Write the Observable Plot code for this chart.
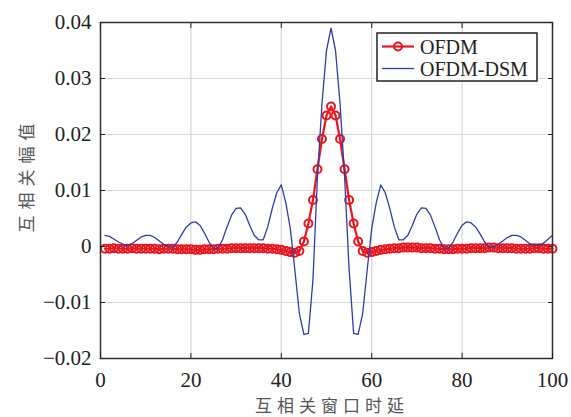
<!DOCTYPE html>
<html><head><meta charset="utf-8">
<script src="https://cdn.jsdelivr.net/npm/d3@7"></script>
<script src="https://cdn.jsdelivr.net/npm/@observablehq/plot@0.6"></script>
<style>body{margin:0;background:#fff} svg{display:block}</style>
</head><body><div id="chart"></div>
<script>
// Series values, lag index 1..100
const ofdm = [
 -0.0004,-0.0004,-0.0003,-0.0004,-0.0004,-0.0004,-0.0003,-0.0004,-0.0004,-0.0004,
 -0.0004,-0.0004,-0.0005,-0.0004,-0.0004,-0.0004,-0.0005,-0.0005,-0.0005,-0.0005,
 -0.0006,-0.0006,-0.0005,-0.0005,-0.0005,-0.0004,-0.0004,-0.0004,-0.0003,-0.0003,
 -0.0003,-0.0003,-0.0003,-0.0003,-0.0003,-0.0003,-0.0004,-0.0004,-0.0005,-0.0006,
 -0.0008,-0.0010,-0.0011,-0.0008,0.0009,0.0041,0.0083,0.0138,0.0192,0.0234,
 0.0250,0.0234,0.0192,0.0138,0.0083,0.0041,0.0009,-0.0008,-0.0011,-0.0010,
 -0.0008,-0.0006,-0.0005,-0.0004,-0.0003,-0.0003,-0.0002,-0.0002,-0.0002,-0.0002,
 -0.0003,-0.0003,-0.0003,-0.0004,-0.0004,-0.0005,-0.0005,-0.0005,-0.0004,-0.0004,
 -0.0004,-0.0003,-0.0003,-0.0003,-0.0003,-0.0002,-0.0002,-0.0003,-0.0003,-0.0003,
 -0.0003,-0.0004,-0.0004,-0.0004,-0.0004,-0.0003,-0.0003,-0.0004,-0.0004,-0.0004
];
const ofdmDsm = [
 0.0020,0.0018,0.0013,0.0008,0.0004,0.0002,0.0005,0.0011,0.0017,0.0020,
 0.0020,0.0016,0.0010,0.0004,0.0000,-0.0001,0.0008,0.0022,0.0035,0.0042,
 0.0044,0.0038,0.0024,0.0008,-0.0003,-0.0003,0.0012,0.0035,0.0056,0.0068,
 0.0069,0.0058,0.0038,0.0020,0.0012,0.0012,0.0035,0.0068,0.0096,0.0110,
 0.0078,0.0032,-0.0042,-0.0120,-0.0157,-0.0155,-0.0060,0.0125,0.0255,0.0350,
 0.0390,0.0350,0.0255,0.0125,-0.0040,-0.0155,-0.0157,-0.0120,-0.0042,0.0032,
 0.0078,0.0110,0.0096,0.0068,0.0035,0.0012,0.0012,0.0020,0.0038,0.0058,
 0.0069,0.0068,0.0056,0.0035,0.0012,-0.0003,-0.0003,0.0008,0.0024,0.0038,
 0.0044,0.0042,0.0035,0.0022,0.0008,-0.0001,0.0000,0.0004,0.0010,0.0016,
 0.0020,0.0020,0.0017,0.0011,0.0005,0.0002,0.0002,0.0006,0.0013,0.0020
];
const seriesNames = ["OFDM", "OFDM-DSM"];
const xTicks = [0, 20, 40, 60, 80, 100];
const yTicks = [-0.02, -0.01, 0, 0.01, 0.02, 0.03, 0.04];
const yTickLabels = ["\u22120.02", "\u22120.01", "0", "0.01", "0.02", "0.03", "0.04"];
const xLabel = "互相关窗口时延";
const yLabel = "互相关幅值";

const RED = "#e8161e", BLUE = "#2e3ea6";
const data = ofdm.map((v, i) => ({lag: i + 1, ofdm: v, dsm: ofdmDsm[i]}));
const fmtY = d => yTickLabels[yTicks.indexOf(d)];
const W = 571, H = 417, ML = 100, MR = 19, MT = 22, MB = 59;

const chart = Plot.plot({
  width: W, height: H,
  marginLeft: ML, marginRight: MR, marginTop: MT, marginBottom: MB,
  style: {fontFamily: "'Liberation Serif','Times New Roman',serif", fontSize: "21px", color: "#222", background: "#fff", overflow: "visible"},
  x: {domain: [0, 100]},
  y: {domain: [-0.02, 0.04]},
  marks: [
    Plot.gridX(xTicks, {stroke: "#d6d6d6", strokeOpacity: 1, strokeWidth: 1.2}),
    Plot.gridY(yTicks, {stroke: "#d6d6d6", strokeOpacity: 1, strokeWidth: 1.2}),
    Plot.line(data, {x: "lag", y: "ofdm", stroke: RED, strokeWidth: 2.2}),
    Plot.dot(data, {x: "lag", y: "ofdm", r: 4, stroke: RED, strokeWidth: 2, fill: "none"}),
    Plot.line(data, {x: "lag", y: "dsm", stroke: BLUE, strokeWidth: 1.3}),
    Plot.frame({stroke: "#333", strokeWidth: 1.5}),
    Plot.axisX(xTicks, {anchor: "bottom", tickSize: -5, tickPadding: 19, label: null}),
    Plot.axisX(xTicks, {anchor: "top", tickSize: -5, tickFormat: () => "", label: null}),
    Plot.axisY(yTicks, {anchor: "left", tickSize: -5, tickPadding: 14, tickFormat: fmtY, label: null}),
    Plot.axisY(yTicks, {anchor: "right", tickSize: -5, tickFormat: () => "", label: null})
  ]
});
document.getElementById("chart").appendChild(chart);

const svg = d3.select(chart);
// Axis titles
svg.append("text")
  .attr("transform", "translate(25,175) rotate(-90)")
  .attr("text-anchor", "middle").attr("dominant-baseline", "central")
  .attr("font-family", "'Noto Sans CJK SC', sans-serif").attr("font-size", 17)
  .attr("letter-spacing", 6).attr("fill", "#555").text(yLabel);
svg.append("text")
  .attr("x", 332).attr("y", 404)
  .attr("text-anchor", "middle").attr("dominant-baseline", "central")
  .attr("font-family", "'Noto Sans CJK SC', sans-serif").attr("font-size", 17)
  .attr("letter-spacing", 5).attr("fill", "#555").text(xLabel);

// Legend
const lg = svg.append("g").attr("text-anchor", "start");
lg.append("rect").attr("x", 377).attr("y", 33).attr("width", 160).attr("height", 48)
  .attr("fill", "#fff").attr("stroke", "#222").attr("stroke-width", 1.5);
const rows = [{name: seriesNames[0], color: RED, marker: true, y: 46.5},
              {name: seriesNames[1], color: BLUE, marker: false, y: 68.5}];
rows.forEach(r => {
  lg.append("line").attr("x1", 382).attr("x2", 414).attr("y1", r.y).attr("y2", r.y)
    .attr("stroke", r.color).attr("stroke-width", r.marker ? 2.2 : 1.3);
  if (r.marker) lg.append("circle").attr("cx", 398).attr("cy", r.y).attr("r", 4)
    .attr("fill", "none").attr("stroke", r.color).attr("stroke-width", 2);
  lg.append("text").attr("x", 420).attr("y", r.y).attr("dominant-baseline", "central")
    .attr("text-anchor", "start")
    .attr("font-family", "'Liberation Serif','Times New Roman',serif").attr("font-size", 20)
    .attr("fill", "#222").text(r.name);
});
</script></body></html>
